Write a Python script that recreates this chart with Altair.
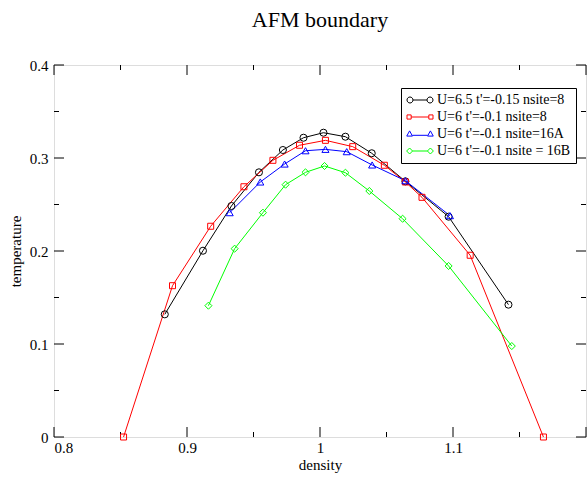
import altair as alt
import pandas as pd

series_names = ["U=6.5 t'=-0.15 nsite=8", "U=6 t'=-0.1 nsite=8",
                "U=6 t'=-0.1 nsite=16A", "U=6 t'=-0.1 nsite = 16B"]
series_colors = ["#000000", "#ff0000", "#0000ff", "#00ff00"]
marker_shapes = ["circle", "square", "triangle-up", "diamond"]

black_x = [0.8833, 0.9120, 0.9334, 0.9541, 0.9721, 0.9876, 1.0026, 1.0191, 1.0389, 1.0642, 1.0967, 1.1417]
black_y = [0.1319, 0.2003, 0.2484, 0.2846, 0.3086, 0.3218, 0.3272, 0.3229, 0.3051, 0.2749, 0.2369, 0.1423]
red_x = [0.8523, 0.8891, 0.9178, 0.9428, 0.9646, 0.9846, 1.0041, 1.0246, 1.0484, 1.0642, 1.0767, 1.1129, 1.1680]
red_y = [0.0, 0.1627, 0.2266, 0.2691, 0.2975, 0.3137, 0.3190, 0.3122, 0.2922, 0.2742, 0.2577, 0.1954, 0.0]
blue_x = [0.9321, 0.9551, 0.9734, 0.9891, 1.0041, 1.0201, 1.0392, 1.0642, 1.0977]
blue_y = [0.2412, 0.2742, 0.2935, 0.3078, 0.3093, 0.3068, 0.2925, 0.2756, 0.2380]
green_x = [0.9161, 0.9358, 0.9571, 0.9741, 0.9891, 1.0034, 1.0191, 1.0371, 1.0621, 1.0967, 1.1442]
green_y = [0.1412, 0.2025, 0.2412, 0.2713, 0.2846, 0.2914, 0.2842, 0.2645, 0.2347, 0.1839, 0.0978]

x_major = [0.8, 0.9, 1.0, 1.1, 1.2]
x_minor = [0.85, 0.95, 1.05, 1.15]
y_major = [0.0, 0.1, 0.2, 0.3, 0.4]
y_minor = [0.05, 0.15, 0.25, 0.35]
x_labels = [0.8, 0.9, 1.0, 1.1]

# legend symbols: line with a marker at each end (drawn wider than the nominal symbol box)
legend_paths = [
    "M-2,0 A0.46,0.46 0 1,1 -1.08,0 A0.46,0.46 0 1,1 -2,0 Z M-1.08,0 L1.08,0 "
    "M1.08,0 A0.46,0.46 0 1,1 2,0 A0.46,0.46 0 1,1 1.08,0 Z",
    "M-2,-0.32 L-1.36,-0.32 L-1.36,0.32 L-2,0.32 Z M-1.36,0 L1.36,0 "
    "M1.36,-0.32 L2,-0.32 L2,0.32 L1.36,0.32 Z",
    "M-2.04,0.32 L-1.6,-0.48 L-1.16,0.32 Z M-1.16,0.2 L1.16,0.2 "
    "M1.16,0.32 L1.6,-0.48 L2.04,0.32 Z",
    "M-2.06,0 L-1.6,-0.46 L-1.14,0 L-1.6,0.46 Z M-1.14,0 L1.14,0 "
    "M1.14,0 L1.6,-0.46 L2.06,0 L1.6,0.46 Z",
]

rows = []
for name, xs, ys in zip(series_names, [black_x, red_x, blue_x, green_x],
                        [black_y, red_y, blue_y, green_y]):
    for i, (xv, yv) in enumerate(zip(xs, ys)):
        rows.append({"series": name, "density": xv, "temperature": yv, "idx": i})
df = pd.DataFrame(rows)

W, H = 532, 372
FONT = "Liberation Serif"

xscale = alt.Scale(domain=[0.8, 1.2], nice=False, zero=False)
yscale = alt.Scale(domain=[0.0, 0.4], nice=False, zero=False)
cscale = alt.Scale(domain=series_names, range=series_colors)
sscale = alt.Scale(domain=series_names, range=legend_paths)

xaxis = alt.Axis(values=x_labels, format="~g", ticks=False, domain=False, grid=False,
                 labelFont=FONT, labelFontSize=15, labelColor="black", labelPadding=3,
                 title="density", titleFont=FONT, titleFontSize=15, titleFontWeight="normal",
                 titleColor="black", titlePadding=2)
yaxis = alt.Axis(values=y_major, format="~g", ticks=False, domain=False, grid=False,
                 labelFont=FONT, labelFontSize=15, labelColor="black", labelPadding=6,
                 title="temperature", titleFont=FONT, titleFontSize=15, titleFontWeight="normal",
                 titleColor="black", titlePadding=6)
leg = alt.Legend(title=None, orient="none", legendX=347, legendY=23,
                 strokeColor="black", fillColor="white", padding=5, cornerRadius=0,
                 labelFont=FONT, labelFontSize=14, labelColor="black", labelLimit=400,
                 rowPadding=3, labelOffset=10, symbolOffset=7, symbolStrokeWidth=1,
                 symbolSize=169)

X = alt.X("density:Q", scale=xscale, axis=xaxis, title="density")
Y = alt.Y("temperature:Q", scale=yscale, axis=yaxis, title="temperature")
C = alt.Color("series:N", scale=cscale, legend=leg)

base = alt.Chart(df)

lines = base.mark_line(strokeWidth=1, clip=True).encode(
    x=X, y=Y, color=C, order=alt.Order("idx:Q"),
)

marker_layers = []
for name, shp in zip(series_names, marker_shapes):
    size = 36 if shp == "square" else 50
    marker_layers.append(
        base.transform_filter(alt.datum.series == name).mark_point(
            shape=shp, filled=False, size=size, strokeWidth=1, opacity=1
        ).encode(x=X, y=Y, color=C)
    )

legend_layer = base.transform_filter("false").mark_point(
    filled=False, size=169, strokeWidth=1, opacity=1
).encode(
    x=X, y=Y, color=C,
    shape=alt.Shape("series:N", scale=sscale, legend=leg),
)


def tick_layer(vals, orient, length):
    d = alt.Chart(pd.DataFrame({"density": vals, "temperature": vals})).mark_rule(
        color="black", strokeWidth=1)
    if orient == "bottom":
        return d.encode(x=X, y=alt.value(H), y2=alt.value(H - length))
    if orient == "top":
        return d.encode(x=X, y=alt.value(0), y2=alt.value(length))
    if orient == "left":
        return d.encode(y=Y, x=alt.value(0), x2=alt.value(length))
    return d.encode(y=Y, x=alt.value(W), x2=alt.value(W - length))


ticks = []
for o in ["bottom", "top"]:
    ticks.append(tick_layer(x_major, o, 10))
    ticks.append(tick_layer(x_minor, o, 5))
for o in ["left", "right"]:
    ticks.append(tick_layer(y_major, o, 10))
    ticks.append(tick_layer(y_minor, o, 5))

chart = alt.layer(lines, *ticks, *marker_layers, legend_layer).properties(
    width=W, height=H,
    title=alt.TitleParams("AFM boundary", font=FONT, fontSize=22, fontWeight="normal",
                          color="black", anchor="middle", offset=26),
    autosize=alt.AutoSizeParams(type="none"),
    padding={"left": 54, "top": 65, "right": 1, "bottom": 41},
).configure_view(
    stroke="black", strokeWidth=1
).configure(background="white")

chart.save("out.html", embed_options={"renderer": "svg", "actions": False})
